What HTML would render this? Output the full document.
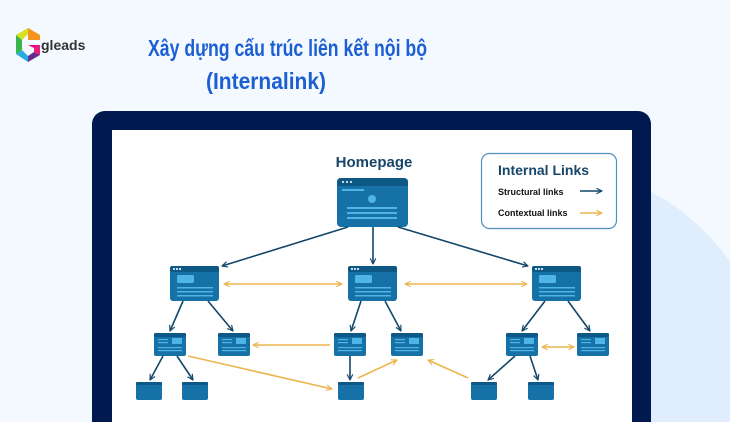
<!DOCTYPE html>
<html><head><meta charset="utf-8"><style>
html,body{margin:0;padding:0;width:730px;height:422px;overflow:hidden;background:#f3f9fe;}
svg{display:block;overflow:hidden}
</style></head><body>
<svg width="730" height="422" viewBox="0 0 730 422" xmlns="http://www.w3.org/2000/svg">
<defs>
<marker id="ab" viewBox="0 0 10 10" refX="9" refY="5" markerWidth="7" markerHeight="7" orient="auto-start-reverse" markerUnits="userSpaceOnUse"><path d="M1,1 L9,5 L1,9" fill="none" stroke="#12466a" stroke-width="1.6"/></marker>
<marker id="ao" viewBox="0 0 10 10" refX="9" refY="5" markerWidth="7" markerHeight="7" orient="auto-start-reverse" markerUnits="userSpaceOnUse"><path d="M1,1 L9,5 L1,9" fill="none" stroke="#ebb54f" stroke-width="1.6"/></marker>
</defs>
<rect width="730" height="422" fill="#f3f9fe"/>
<circle cx="545" cy="390" r="225" fill="#e0edfc"/>
<!-- logo -->
<g transform="translate(16,28)">
<polygon points="12,0 24,7 24,12 12,12" fill="#f7941d"/>
<polygon points="12,0 0,7 6,12 12,6" fill="#d7df23"/>
<polygon points="0,7 6,12 6,22 0,26" fill="#39b54a"/>
<polygon points="0,26 6,22 12,28 12,34" fill="#29abe2"/>
<polygon points="12,34 12,28 18,24 24,27" fill="#662d91"/>
<polygon points="24,27 18,24 18,18 24,17" fill="#ed1e79"/>
<polygon points="12,17 24,17 18,20" fill="#ec008c"/>
</g>
<text x="41" y="50" font-family="Liberation Sans, sans-serif" font-weight="bold" font-size="14" fill="#333">gleads</text>
<text x="148" y="56" textLength="279" lengthAdjust="spacingAndGlyphs" font-family="Liberation Sans, sans-serif" font-weight="bold" font-size="23" fill="#1c5fd4">Xây dựng cấu trúc liên kết nội bộ</text>
<text x="206" y="89" textLength="120" lengthAdjust="spacingAndGlyphs" font-family="Liberation Sans, sans-serif" font-weight="bold" font-size="23" fill="#1c5fd4">(Internalink)</text>
<!-- monitor -->
<path d="M105,111 H638 A13,13 0 0 1 651,124 V422 H92 V124 A13,13 0 0 1 105,111Z" fill="#001a4f"/>
<rect x="112" y="130" width="520" height="292" fill="#ffffff"/>
<text x="374" y="167" text-anchor="middle" font-family="Liberation Sans, sans-serif" font-weight="bold" font-size="15" fill="#17466a">Homepage</text>
<!-- legend -->
<rect x="481.5" y="153.5" width="135" height="75" rx="8" fill="#fff" stroke="#4f8fbf" stroke-width="1.2"/>
<text x="498" y="175" font-family="Liberation Sans, sans-serif" font-weight="bold" font-size="14" fill="#17466a">Internal Links</text>
<text x="498" y="195" font-family="Liberation Sans, sans-serif" font-weight="bold" font-size="9" fill="#111">Structural links</text>
<text x="498" y="216" font-family="Liberation Sans, sans-serif" font-weight="bold" font-size="9" fill="#111">Contextual links</text>
<line x1="580" y1="191" x2="602" y2="191" stroke="#12466a" stroke-width="1.5" marker-end="url(#ab)"/>
<line x1="580" y1="213" x2="602" y2="213" stroke="#ebb54f" stroke-width="1.5" marker-end="url(#ao)"/>
<!-- homepage node -->
<g>
<rect x="337" y="178" width="71" height="49" rx="4" fill="#1571a6"/>
<path d="M341,178 H404 A4,4 0 0 1 408,182 V186 H337 V182 A4,4 0 0 1 341,178Z" fill="#0d5884"/>
<circle cx="343" cy="182" r="1" fill="#fff"/><circle cx="347" cy="182" r="1" fill="#fff"/><circle cx="351" cy="182" r="1" fill="#fff"/>
<rect x="342" y="189" width="22" height="2" fill="#4fb4e6"/>
<circle cx="372" cy="199" r="4" fill="#4fb4e6"/>
<rect x="347" y="207" width="50" height="2" fill="#4fb4e6"/>
<rect x="347" y="212" width="50" height="2" fill="#4fb4e6"/>
<rect x="347" y="217" width="50" height="2" fill="#4fb4e6"/>
</g>
<!-- mid nodes -->
<g id="m1">
<rect x="170" y="266" width="49" height="35" rx="3" fill="#1571a6"/>
<rect x="170" y="266" width="49" height="6" rx="2" fill="#0d5884"/>
<rect x="173" y="268" width="2" height="2" fill="#cde"/><rect x="176" y="268" width="2" height="2" fill="#cde"/><rect x="179" y="268" width="2" height="2" fill="#cde"/>
<rect x="177" y="275" width="17" height="8" rx="1.5" fill="#4fb4e6"/>
<rect x="177" y="287" width="36" height="1.5" fill="#4fb4e6"/>
<rect x="177" y="291" width="36" height="1.5" fill="#4fb4e6"/>
<rect x="177" y="295" width="36" height="1.5" fill="#4fb4e6"/>
</g>
<use href="#m1" transform="translate(178,0)"/>
<use href="#m1" transform="translate(362,0)"/>
<!-- small nodes -->
<g id="s1">
<rect x="154" y="333" width="32" height="23" rx="2" fill="#1571a6"/>
<rect x="154" y="333" width="32" height="4" rx="1.5" fill="#0d5884"/>
<rect x="158" y="339" width="10" height="1.2" fill="#4fb4e6"/>
<rect x="158" y="342" width="10" height="1.2" fill="#4fb4e6"/>
<rect x="172" y="338" width="10" height="6" fill="#4fb4e6"/>
<rect x="158" y="347" width="24" height="1.2" fill="#4fb4e6"/>
<rect x="158" y="350" width="24" height="1.2" fill="#4fb4e6"/>
</g>
<use href="#s1" transform="translate(64,0)"/>
<use href="#s1" transform="translate(180,0)"/>
<use href="#s1" transform="translate(237,0)"/>
<use href="#s1" transform="translate(352,0)"/>
<use href="#s1" transform="translate(423,0)"/>
<!-- tiny nodes -->
<g id="t1">
<rect x="136" y="382" width="26" height="18" rx="2" fill="#1571a6"/>
<rect x="136" y="382" width="26" height="3" rx="1" fill="#0d5884"/>
</g>
<use href="#t1" transform="translate(46,0)"/>
<use href="#t1" transform="translate(202,0)"/>
<use href="#t1" transform="translate(335,0)"/>
<use href="#t1" transform="translate(392,0)"/>
<!-- structural arrows -->
<g stroke="#12466a" stroke-width="1.6" fill="none" marker-end="url(#ab)">
<line x1="348" y1="227" x2="222" y2="266"/>
<line x1="373" y1="227" x2="373" y2="264"/>
<line x1="398" y1="227" x2="528" y2="266"/>
<line x1="183" y1="301" x2="170" y2="331"/>
<line x1="208" y1="301" x2="233" y2="331"/>
<line x1="361" y1="301" x2="351" y2="331"/>
<line x1="385" y1="301" x2="401" y2="331"/>
<line x1="545" y1="301" x2="522" y2="331"/>
<line x1="568" y1="301" x2="590" y2="331"/>
<line x1="163" y1="356" x2="150" y2="380"/>
<line x1="177" y1="356" x2="193" y2="380"/>
<line x1="350" y1="356" x2="350" y2="380"/>
<line x1="515" y1="356" x2="488" y2="380"/>
<line x1="530" y1="356" x2="538" y2="380"/>
</g>
<!-- contextual arrows -->
<g stroke="#ebb54f" stroke-width="1.6" fill="none">
<line x1="224" y1="284" x2="342" y2="284" marker-start="url(#ao)" marker-end="url(#ao)"/>
<line x1="405" y1="284" x2="527" y2="284" marker-start="url(#ao)" marker-end="url(#ao)"/>
<line x1="330" y1="345" x2="253" y2="345" marker-end="url(#ao)"/>
<line x1="542" y1="347" x2="574" y2="347" marker-start="url(#ao)" marker-end="url(#ao)"/>
<line x1="188" y1="356" x2="332" y2="389" marker-end="url(#ao)"/>
<line x1="358" y1="378" x2="397" y2="360" marker-end="url(#ao)"/>
<line x1="468" y1="378" x2="428" y2="360" marker-end="url(#ao)"/>
</g>
</svg>
</body></html>
